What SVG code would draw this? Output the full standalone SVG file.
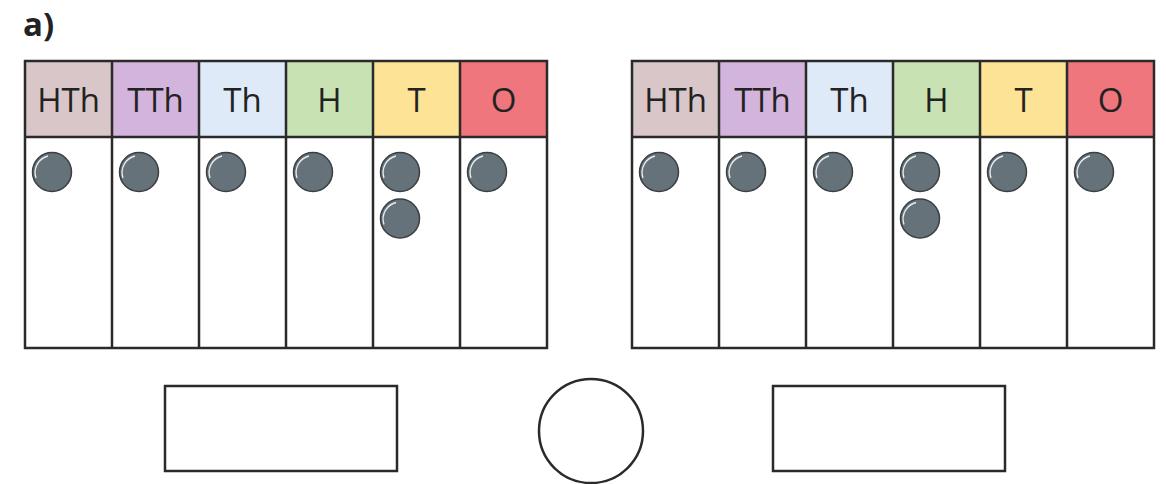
<svg xmlns="http://www.w3.org/2000/svg" width="1166" height="484" viewBox="0 0 1166 484">
<defs>
<style>
.hd{stroke:#2a2a2a;stroke-width:2.5}
.ln{stroke:#2a2a2a;stroke-width:2.5;fill:none}
.lbl{font-family:"Open Sans","Liberation Sans",sans-serif;font-size:33px;fill:#222;text-anchor:middle}
.hth{fill:#d9c6c8}.tth{fill:#d2b4dc}.th{fill:#deeaf8}.h{fill:#c8e2b4}.t{fill:#fde395}.o{fill:#f0767e}
.cb{fill:#fff;stroke:#2a2a2a;stroke-width:2.5}
</style>
<g id="counter">
<circle r="19.5" fill="#65727a" stroke="#3a3f42" stroke-width="1.5"/>
<path d="M -16 6 A 17 17 0 0 1 -4 -16" fill="none" stroke="#e8ecee" stroke-width="1.3"/>
</g>
</defs>
<rect width="1166" height="484" fill="#fff"/>
<text x="23" y="36" font-family="Open Sans, Liberation Sans, sans-serif" font-size="33" font-weight="bold" fill="#222">a)</text>

<g id="table-left">
<rect class="hth" x="25" y="61" width="87" height="76"/>
<rect class="tth" x="112" y="61" width="87" height="76"/>
<rect class="th" x="199" y="61" width="87" height="76"/>
<rect class="h" x="286" y="61" width="87" height="76"/>
<rect class="t" x="373" y="61" width="87" height="76"/>
<rect class="o" x="460" y="61" width="87" height="76"/>
<rect x="25" y="137" width="522" height="211" fill="#fff"/>
<text class="lbl" x="68.5" y="112">HTh</text>
<text class="lbl" x="155.5" y="112">TTh</text>
<text class="lbl" x="242.5" y="112">Th</text>
<text class="lbl" x="329.5" y="112">H</text>
<text class="lbl" x="416.5" y="112">T</text>
<text class="lbl" x="503.5" y="112">O</text>
<rect class="ln" x="25" y="61" width="522" height="287"/>
<path class="ln" d="M25 137H547M112 61V348M199 61V348M286 61V348M373 61V348M460 61V348"/>
<use href="#counter" x="52" y="172"/>
<use href="#counter" x="139" y="172"/>
<use href="#counter" x="226" y="172"/>
<use href="#counter" x="313" y="172"/>
<use href="#counter" x="400" y="172"/>
<use href="#counter" x="400" y="218.5"/>
<use href="#counter" x="487" y="172"/>
</g>

<g id="table-right">
<rect class="hth" x="632" y="61" width="87" height="76"/>
<rect class="tth" x="719" y="61" width="87" height="76"/>
<rect class="th" x="806" y="61" width="87" height="76"/>
<rect class="h" x="893" y="61" width="87" height="76"/>
<rect class="t" x="980" y="61" width="87" height="76"/>
<rect class="o" x="1067" y="61" width="87" height="76"/>
<rect x="632" y="137" width="522" height="211" fill="#fff"/>
<text class="lbl" x="675.5" y="112">HTh</text>
<text class="lbl" x="762.5" y="112">TTh</text>
<text class="lbl" x="849.5" y="112">Th</text>
<text class="lbl" x="936.5" y="112">H</text>
<text class="lbl" x="1023.5" y="112">T</text>
<text class="lbl" x="1110.5" y="112">O</text>
<rect class="ln" x="632" y="61" width="522" height="287"/>
<path class="ln" d="M632 137H1154M719 61V348M806 61V348M893 61V348M980 61V348M1067 61V348"/>
<use href="#counter" x="659" y="172"/>
<use href="#counter" x="746" y="172"/>
<use href="#counter" x="833" y="172"/>
<use href="#counter" x="920" y="172"/>
<use href="#counter" x="920" y="218.5"/>
<use href="#counter" x="1007" y="172"/>
<use href="#counter" x="1094" y="172"/>
</g>

<g id="answer-left"><rect class="cb" x="165" y="386" width="232" height="85"/></g>
<g id="compare-circle"><circle class="cb" cx="591" cy="431" r="52"/></g>
<g id="answer-right"><rect class="cb" x="773" y="386" width="232" height="85"/></g>
<g id="connectors"/>
</svg>
